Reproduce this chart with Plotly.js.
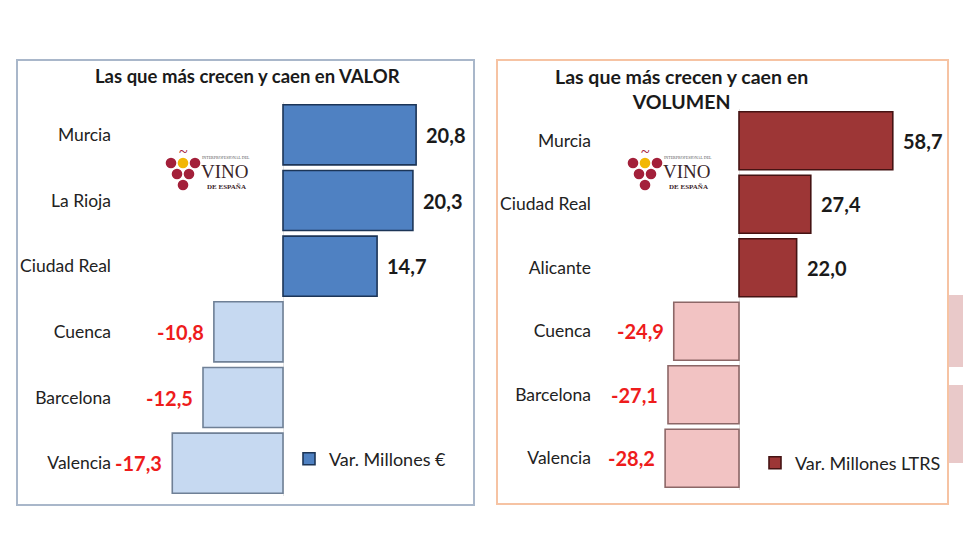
<!DOCTYPE html>
<html>
<head>
<meta charset="utf-8">
<script src="https://cdn.plot.ly/plotly-3.0.1.min.js"></script>
<style>html,body{margin:0;padding:0;background:#fff;}#chart{width:980px;height:560px;}</style>
</head>
<body>
<div id="chart"></div>
<script>
// ---- data ----
const catsValor = ['Murcia', 'La Rioja', 'Ciudad Real', 'Cuenca', 'Barcelona', 'Valencia'];
const valor = [20.8, 20.3, 14.7, -10.8, -12.5, -17.3];
const catsVolumen = ['Murcia', 'Ciudad Real', 'Alicante', 'Cuenca', 'Barcelona', 'Valencia'];
const volumen = [58.7, 27.4, 22.0, -24.9, -27.1, -28.2];
const titleValor = 'Las que más crecen y caen en VALOR';
const titleVolumen = 'Las que más crecen y caen en<br>VOLUMEN';
const legendValor = 'Var. Millones €';
const legendVolumen = 'Var. Millones LTRS';

// ---- helpers ----
const W = 980, H = 560;
const px = x => x / W;
const py = y => 1 - y / H;
const fmt = v => v.toFixed(1).replace('.', ',');
const FONT = 'Lato, "Open Sans", sans-serif';

const blueFill = valor.map(v => v >= 0 ? '#4f81c2' : '#c6d9f1');
const blueLine = valor.map(v => v >= 0 ? '#1c3557' : '#6f8096');
const redFill = volumen.map(v => v >= 0 ? '#9d3636' : '#f2c3c3');
const redLine = volumen.map(v => v >= 0 ? '#451313' : '#8c6767');

const traces = [
  {
    type: 'bar', orientation: 'h', x: valor, y: catsValor, xaxis: 'x', yaxis: 'y',
    name: legendValor, legend: 'legend',
    marker: {color: blueFill, line: {color: blueLine, width: 1.6}},
    hoverinfo: 'skip'
  },
  {
    type: 'bar', orientation: 'h', x: volumen, y: catsVolumen, xaxis: 'x2', yaxis: 'y2',
    name: legendVolumen, legend: 'legend2',
    marker: {color: redFill, line: {color: redLine, width: 1.6}},
    hoverinfo: 'skip'
  }
];

const annotations = [];
function addValueLabels(vals, cats, xr, yr) {
  vals.forEach((v, i) => {
    annotations.push({
      x: v, y: cats[i], xref: xr, yref: yr, showarrow: false,
      text: fmt(v), xanchor: v >= 0 ? 'left' : 'right', xshift: v >= 0 ? 8 : -8,
      font: {family: FONT, size: 20, weight: 'bold', color: v >= 0 ? '#1a1a1a' : '#ee1c1c'}
    });
  });
}
addValueLabels(valor, catsValor, 'x', 'y');
addValueLabels(volumen, catsVolumen, 'x2', 'y2');

// titles
annotations.push({xref: 'paper', yref: 'paper', x: px(248), y: py(76), showarrow: false,
  text: titleValor, xanchor: 'center', yanchor: 'middle',
  font: {family: FONT, size: 18.5, weight: 'bold', color: '#1a1a1a'}});
annotations.push({xref: 'paper', yref: 'paper', x: px(681), y: py(89), showarrow: false,
  text: titleVolumen, xanchor: 'center', yanchor: 'middle', align: 'center',
  font: {family: FONT, size: 19.5, weight: 'bold', color: '#1a1a1a'}});

// logos (decorative)
const shapes = [];
function addLogo(ox, oy) {
  const grapes = [[171, 163, '#a3203a'], [183, 163, '#f2b705'], [195, 163, '#a3203a'],
                  [177, 174, '#a3203a'], [189, 174, '#a3203a'], [183, 185, '#a3203a']];
  const r = 5.3;
  grapes.forEach(g => {
    shapes.push({type: 'circle', xref: 'paper', yref: 'paper',
      x0: px(g[0] + ox - r), x1: px(g[0] + ox + r), y0: py(g[1] + oy + r), y1: py(g[1] + oy - r),
      fillcolor: g[2], line: {width: 0}});
  });
  annotations.push({xref: 'paper', yref: 'paper', x: px(183 + ox), y: py(152 + oy), showarrow: false,
    text: '~', xanchor: 'center', yanchor: 'middle',
    font: {family: '"Liberation Serif", serif', size: 16, color: '#a3203a'}});
  annotations.push({xref: 'paper', yref: 'paper', x: px(226 + ox), y: py(157 + oy), showarrow: false,
    text: 'INTERPROFESIONAL DEL', xanchor: 'center', yanchor: 'middle',
    font: {family: '"Liberation Serif", serif', size: 4, color: '#555'}});
  annotations.push({xref: 'paper', yref: 'paper', x: px(225 + ox), y: py(171 + oy), showarrow: false,
    text: 'VINO', xanchor: 'center', yanchor: 'middle',
    font: {family: '"Liberation Serif", serif', size: 19, color: '#3a2529'}});
  annotations.push({xref: 'paper', yref: 'paper', x: px(226 + ox), y: py(187 + oy), showarrow: false,
    text: 'DE ESPAÑA', xanchor: 'center', yanchor: 'middle',
    font: {family: '"Liberation Serif", serif', size: 7, weight: 'bold', color: '#3a2529'}});
}
addLogo(0, 0);
addLogo(462, 0);

// panel frames
shapes.push({type: 'rect', xref: 'paper', yref: 'paper', x0: px(17), x1: px(474), y0: py(505), y1: py(60),
  line: {color: '#a9b7ca', width: 2}, fillcolor: 'rgba(0,0,0,0)', layer: 'below'});
shapes.push({type: 'rect', xref: 'paper', yref: 'paper', x0: px(497), x1: px(948), y0: py(504), y1: py(60),
  line: {color: '#f6c3a3', width: 2}, fillcolor: 'rgba(0,0,0,0)', layer: 'below'});
// faint background fragments at right edge
shapes.push({type: 'rect', xref: 'paper', yref: 'paper', x0: px(949), x1: px(963), y0: py(367), y1: py(295),
  line: {width: 0}, fillcolor: '#e9c9c9', layer: 'below'});
shapes.push({type: 'rect', xref: 'paper', yref: 'paper', x0: px(949), x1: px(963), y0: py(463), y1: py(385),
  line: {width: 0}, fillcolor: '#e9c9c9', layer: 'below'});

const yTickFont = {family: FONT, size: 17.5, color: '#222'};
const layout = {
  width: W, height: H,
  margin: {l: 0, r: 0, t: 0, b: 0},
  paper_bgcolor: '#fff', plot_bgcolor: 'rgba(0,0,0,0)',
  font: {family: FONT},
  bargap: 0.085,
  xaxis: {domain: [px(115), px(465)], range: [(115 - 283) / 6.4, (465 - 283) / 6.4],
    showticklabels: false, showgrid: false, zeroline: true, zerolinecolor: '#e4e4e4', zerolinewidth: 1,
    showline: false, ticks: '', fixedrange: true},
  yaxis: {domain: [py(496), py(102)], anchor: 'x', autorange: 'reversed', type: 'category',
    showgrid: false, showline: false, ticks: '', tickfont: yTickFont, ticklabelstandoff: 3},
  xaxis2: {domain: [px(595), px(940)], anchor: 'y2', range: [(595 - 739) / 2.62, (940 - 739) / 2.62],
    showticklabels: false, showgrid: false, zeroline: true, zerolinecolor: '#e4e4e4', zerolinewidth: 1,
    showline: false, ticks: ''},
  yaxis2: {domain: [py(490), py(109)], anchor: 'x2', autorange: 'reversed', type: 'category',
    showgrid: false, showline: false, ticks: '', tickfont: yTickFont, ticklabelstandoff: 3},
  showlegend: true,
  legend: {x: px(289), xanchor: 'left', y: py(459), yanchor: 'middle', bgcolor: 'rgba(0,0,0,0)',
    font: {family: FONT, size: 18, color: '#222'}},
  legend2: {x: px(755), xanchor: 'left', y: py(463), yanchor: 'middle', bgcolor: 'rgba(0,0,0,0)',
    font: {family: FONT, size: 18, color: '#222'}},
  annotations: annotations,
  shapes: shapes
};

Plotly.newPlot('chart', traces, layout, {staticPlot: true, displayModeBar: false});
</script>
</body>
</html>
